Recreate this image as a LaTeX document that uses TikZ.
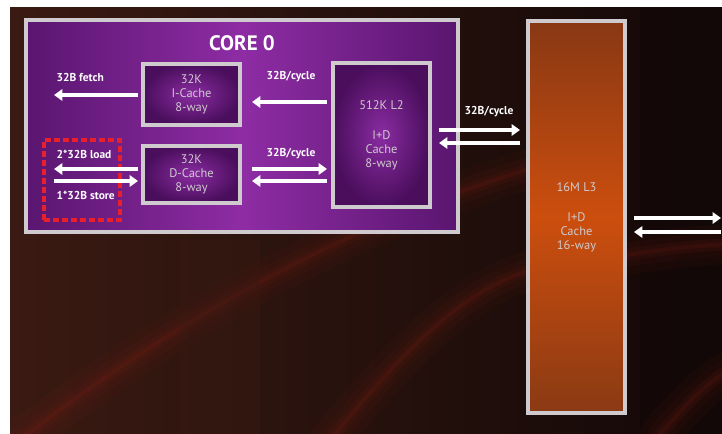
\documentclass[tikz,border=0pt]{standalone}
\usepackage{fontspec}
\setmainfont{PT Sans}
\usetikzlibrary{arrows.meta,calc}
\definecolor{bgdark}{HTML}{120807}
\definecolor{bgbrown}{HTML}{3A1A12}
\definecolor{streak}{HTML}{A02418}
\definecolor{coreedge}{HTML}{5A1670}
\definecolor{coremid}{HTML}{8E2CA4}
\definecolor{boxdark}{HTML}{4A0E5C}
\definecolor{boxglow}{HTML}{8A2CA2}
\definecolor{frame}{HTML}{CFCACE}
\definecolor{lthreetop}{HTML}{883814}
\definecolor{lthreemid}{HTML}{CC4E0E}
\definecolor{lthreebot}{HTML}{8A3A14}
\definecolor{dashred}{HTML}{E8202C}
\tikzset{
  framed/.style={draw=frame, line width=4pt, inner sep=0pt},
  cachebox/.style={framed, inner color=boxglow, outer color=boxdark},
  cachetext/.style={text=frame, font=\fontsize{12.5}{14}\selectfont, align=center},
  lbl/.style={text=white, font=\fontsize{11.5}{13}\selectfont\bfseries},
  arr/.style={draw=white, line width=4.5pt,
    -{Triangle[length=8.5pt,width=11.5pt]}}
}
\begin{document}
\begin{tikzpicture}[x=1bp,y=-1bp]
\useasboundingbox (0,0) rectangle (722,434);
% page edge and dark backdrop
\fill[white] (0,0) rectangle (722,434);
\shade[left color=bgbrown, right color=bgdark, shading angle=90] (10,8) rectangle (722,434);
\fill[bgdark, opacity=0.6] (640,8) rectangle (722,434);
% soft red streaks across the backdrop
\begin{scope}
\clip (10,8) rectangle (722,434);
\foreach \w/\o in {40/0.05,24/0.06,12/0.08,4/0.12}{
  \draw[streak, line width=\w bp, opacity=\o, line cap=round]
    (20,440) .. controls (200,300) and (380,210) .. (560,160);
  \draw[streak, line width=\w bp, opacity=\o, line cap=round]
    (330,440) .. controls (420,330) and (470,290) .. (530,270);
  \draw[streak, line width=\w bp, opacity=\o, line cap=round]
    (625,255) .. controls (660,250) and (690,246) .. (730,244);
  \draw[streak, line width=\w bp, opacity=\o, line cap=round]
    (660,434) .. controls (690,400) and (710,380) .. (730,370);
}
\fill[bgbrown, opacity=0.35] (180,240) rectangle (260,434);
\end{scope}

% core frame
\node[framed, minimum width=432bp, minimum height=212bp,
      left color=coreedge, right color=coreedge, middle color=coremid]
      (core) at (242,126) {};
\node[text=white, font=\fontsize{21}{24}\selectfont\bfseries] (title) at (242,43) {CORE 0};

% caches
\node[cachebox, minimum width=97bp, minimum height=61bp] (icache) at (191.5,94.5) {};
\node[cachetext] at (icache.center) {32K\\I-Cache\\8-way};
\node[cachebox, minimum width=97bp, minimum height=57bp] (dcache) at (191.5,174.5) {};
\node[cachetext] at (dcache.center) {32K\\D-Cache\\8-way};
\node[cachebox, minimum width=97bp, minimum height=144bp] (ltwo) at (381.5,135) {};
\node[cachetext] at (381.5,105) {512K L2};
\node[cachetext] at (381.5,150) {I+D\\Cache\\8-way};
\node[framed, minimum width=97bp, minimum height=392bp,
      top color=lthreetop, bottom color=lthreebot, middle color=lthreemid]
      (lthree) at (576.5,217) {};
\node[cachetext] at (576.5,187) {16M L3};
\node[cachetext] at (576.5,232) {I+D\\Cache\\16-way};

% load/store group
\node[draw=dashred, dash pattern=on 6bp off 3bp, line width=3.3pt,
      minimum width=76bp, minimum height=80bp, inner sep=0pt] (ldst) at (82,180) {};

% free ends of the outward arrows
\coordinate (fetchend) at (54,95);
\coordinate (loadend) at (54,169);
\coordinate (storestart) at (54,181);
\coordinate (outend) at (722,218);
\coordinate (instart) at (722,232);

% connectors
\draw[arr, shorten <=3bp] (icache.west |- fetchend) -- (fetchend);
\draw[arr, shorten <=4bp, shorten >=10bp] (ltwo.west |- 0,102) -- (icache.east |- 0,102);
\draw[arr, shorten <=3bp] (dcache.west |- loadend) -- (loadend);
\draw[arr, shorten >=3bp] (storestart) -- (dcache.west |- storestart);
\draw[arr, shorten <=10bp, shorten >=4bp] (dcache.east |- 0,169) -- (ltwo.west |- 0,169);
\draw[arr, shorten <=4bp, shorten >=10bp] (ltwo.west |- 0,181) -- (dcache.east |- 0,181);
\draw[arr, shorten <=7bp, shorten >=6bp] (ltwo.east |- 0,130) -- (lthree.west |- 0,130);
\draw[arr, shorten <=6bp, shorten >=7bp] (lthree.west |- 0,143) -- (ltwo.east |- 0,143);
\draw[arr, shorten <=7bp, shorten >=1bp] (lthree.east |- outend) -- (outend);
\draw[arr, shorten <=1bp, shorten >=7bp] (instart) -- (lthree.east |- instart);

% labels
\node[lbl, anchor=west] at (53,77) {32B fetch};
\node[lbl] at (291,77) {32B/cycle};
\node[lbl, anchor=west] at (53,154) {2*32B load};
\node[lbl, anchor=west] at (53,195) {1*32B store};
\node[lbl] at (291,154) {32B/cycle};
\node[lbl] at (489,112) {32B/cycle};
\end{tikzpicture}
\end{document}
